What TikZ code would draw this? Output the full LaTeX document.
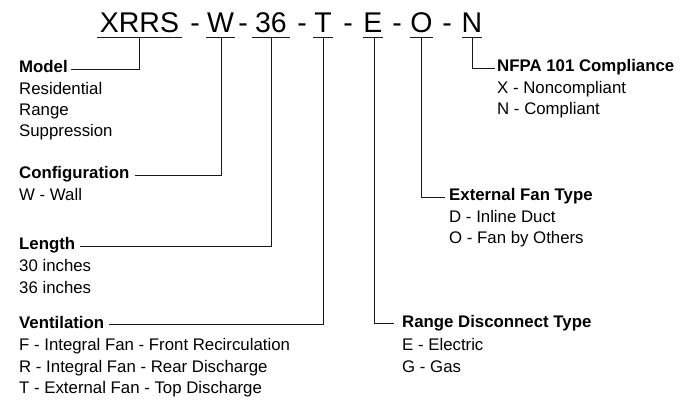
\documentclass[tikz,border=0pt]{standalone}
\usepackage{fontspec}
\setmainfont{Liberation Sans}
\begin{document}
\begin{tikzpicture}[x=1pt,y=-1pt,
  code/.style={anchor=base,inner sep=0pt,font=\fontsize{28.5}{34}\selectfont},
  title/.style={anchor=base west,inner sep=0pt,text height=8pt,text depth=0pt,font=\fontsize{16.8}{20}\selectfont\bfseries},
  descr/.style={anchor=base west,inner sep=0pt,font=\fontsize{16.8}{20}\selectfont},
  conn/.style={draw=black!90,line width=0.9pt}]
\useasboundingbox (0,0) rectangle (696,403);
% header codes
\node[code] (hx) at (139.5,33) {XRRS};
\node[code] (hw) at (220.5,33) {W};
\node[code] (h36) at (271,33) {36};
\node[code] (ht) at (323,33) {T};
\node[code] (he) at (373,33) {E};
\node[code] (ho) at (421.5,33) {O};
\node[code] (hn) at (472,33) {N};
\node[code] (d1) at (195,33) {-};
\node[code] (d2) at (243,33) {-};
\node[code] (d3) at (302,33) {-};
\node[code] (d4) at (348,33) {-};
\node[code] (d5) at (397,33) {-};
\node[code] (d6) at (447,33) {-};
% underlines
\draw[conn] ([shift={(-42.5,4.5)}]hx.base) -- ([shift={(42.5,4.5)}]hx.base);
\draw[conn] ([shift={(-14.5,4.5)}]hw.base) -- ([shift={(14.5,4.5)}]hw.base);
\draw[conn] ([shift={(-19,4.5)}]h36.base) -- ([shift={(19,4.5)}]h36.base);
\draw[conn] ([shift={(-10,4.5)}]ht.base) -- ([shift={(10,4.5)}]ht.base);
\draw[conn] ([shift={(-10,4.5)}]he.base) -- ([shift={(10,4.5)}]he.base);
\draw[conn] ([shift={(-11.5,4.5)}]ho.base) -- ([shift={(11.5,4.5)}]ho.base);
\draw[conn] ([shift={(-10,4.5)}]hn.base) -- ([shift={(10,4.5)}]hn.base);
\coordinate (ux) at (139,37.5);
\coordinate (uw) at (221,37.5);
\coordinate (u36) at (271,37.5);
\coordinate (ut) at (323,37.5);
\coordinate (ue) at (374,37.5);
\coordinate (uo) at (421,37.5);
\coordinate (un) at (472,37.5);
% left labels
\node[title] (model) at (19,73) {Model};
\node[descr] (m1) at (19,95) {Residential};
\node[descr] (m2) at (19,116) {Range};
\node[descr] (m3) at (19,137) {Suppression};
\node[title] (conf) at (19,179) {Configuration};
\node[descr] (c1) at (19,201) {W - Wall};
\node[title] (len) at (19,250) {Length};
\node[descr] (l1) at (19,272) {30 inches};
\node[descr] (l2) at (19,294) {36 inches};
\node[title] (vent) at (19,328) {Ventilation};
\node[descr] (v1) at (19,350) {F - Integral Fan - Front Recirculation};
\node[descr] (v2) at (19,372) {R - Integral Fan - Rear Discharge};
\node[descr] (v3) at (19,393) {T - External Fan - Top Discharge};
% right labels
\node[title] (nfpa) at (497,72) {NFPA 101 Compliance};
\node[descr] (n1) at (497,94) {X - Noncompliant};
\node[descr] (n2) at (497,115) {N - Compliant};
\node[title] (eft) at (449,201) {External Fan Type};
\node[descr] (e1) at (449,223) {D - Inline Duct};
\node[descr] (e2) at (449,244) {O - Fan by Others};
\node[title] (rdt) at (402,327) {Range Disconnect Type};
\node[descr] (r1) at (402,350) {E - Electric};
\node[descr] (r2) at (402,372) {G - Gas};
% connectors
\draw[conn] (ux) |- ([xshift=3]model.east);
\draw[conn] (uw) |- ([xshift=5]conf.east);
\draw[conn] (u36) |- ([xshift=5]len.east);
\draw[conn] (ut) |- ([xshift=5]vent.east);
\draw[conn] (ue) |- ([xshift=-8]rdt.west);
\draw[conn] (uo) |- ([xshift=-4]eft.west);
\draw[conn] (un) |- ([xshift=-2]nfpa.west);
\end{tikzpicture}
\end{document}
